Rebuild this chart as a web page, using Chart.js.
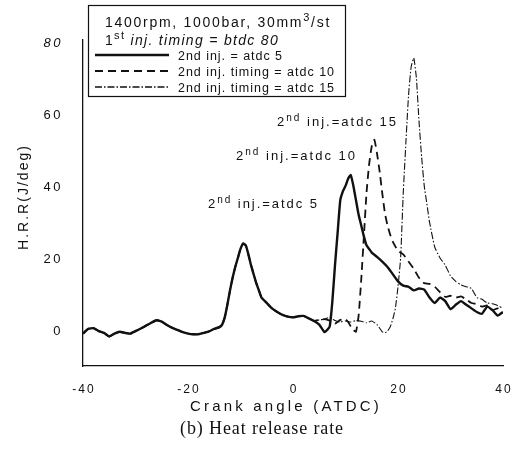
<!DOCTYPE html>
<html>
<head>
<meta charset="utf-8">
<script src="https://cdn.jsdelivr.net/npm/chart.js@4.4.1/dist/chart.umd.min.js"></script>
<style>
  body { margin: 0; background: #fff; }
  canvas { display: block; }
</style>
</head>
<body>
<canvas id="myChart" width="528" height="449"></canvas>
<script>
// partie commune des trois courbes (avant la 2e injection)
const commonAngle = [-40,-39,-38,-37,-36,-35,-34,-33,-32,-31,-30,-29,-28,-27,-26,-25,-24,-23,-22,-21,-20,-19,-18,-17,-16,-15,-14,-13.5,-13,-12.5,-12,-11.5,-11,-10.5,-10,-9.5,-9,-8.5,-8,-7.5,-7,-6.5,-6,-5,-4,-3,-2,-1,0,1,2,3,4]
const commonHrr = [-1,0.3,0.5,-0.3,-0.8,-1.8,-1,-0.5,-0.8,-1,-0.3,0.4,1.2,2,2.7,2.3,1.4,0.6,0,-0.6,-1,-1.2,-1.2,-0.8,-0.4,0.3,0.8,1.5,3.5,7,11,14.5,17.5,20,22.5,24,23.5,21,18,15.5,13,11,9,7.5,6,5,4.2,3.7,3.5,3.8,3.9,3.2,2.5]

// 2nd inj. = atdc 5
const angle5 = [5,6,6.5,7,7.5,8,8.5,9,9.5,10,10.5,11,11.5,12,12.5,13,13.5,14,14.5,15,16,17,18,19,20,21,22,23,24,25,26,27,28,29,30,31,32,33,34,35,36,37,38,39,40]
const hrr5 = [1.5,-0.6,0,1,8,18,27,36,38.5,40,42,43,40,36,32,29,26,23.5,22.5,21.5,20.3,19,17.5,15.5,13.5,12.3,12,11,11.5,11.2,9,7.5,9,8,5.8,7,8,7,6,5,4.5,6.5,5.5,4,5]

// 2nd inj. timing = atdc 10
const angle10 = [5,6,7,8,9,10,10.5,11,11.5,12,12.5,13,13.5,14,14.5,15,15.5,16,16.5,17,17.5,18,18.5,19,20,21,22,23,24,25,26,27,28,29,30,31,32,33,34,35,36,37,38,39,40]
const hrr10 = [2.8,3,2.6,1.8,2.8,3,2.2,1,0,-0.5,4,14,26,38,46,51,52.8,49,44,38,32.5,29,26.5,24.5,22,21,19,17,14.5,13,12.8,12,10.5,9.2,9.5,9,9.3,8.5,7.5,7.2,6.5,6.8,5.5,6,4.7]

// 2nd inj. timing = atdc 15
const angle15 = [5,6,7,8,9,10,11,12,13,14,15,16,17,17.5,18,18.5,19,19.5,20,20.5,21,21.5,22,22.5,23,23.5,24,24.5,25,25.5,26,27,28,29,30,31,32,33,34,35,36,37,38,39,40]
const hrr15 = [2.8,3,3.5,2.6,2.2,2.5,2.2,2.6,2.4,2,2.5,1.5,-0.5,-0.8,-0.3,0.8,3,6,12,20,38,52,65,73,75.5,70,58,48,40,35,30,23,20,18,15,13.5,12.5,12,11.5,9,8.5,7.5,7.3,6.8,6]

const xTicks = [-40,-20,0,20,40]
const yTicks = [0,20,40,60,80]
const seriesLabels = ['2nd inj. = atdc 5', '2nd inj. timing = atdc 10', '2nd inj. timing = atdc 15']

const toPoints = (xs, ys) => xs.map((x, i) => ({x: x, y: ys[i]}))

const FONT = '"Liberation Sans", Arial, sans-serif'
const INK = '#111'

// texte avec espacement pour tenir dans une largeur donnee
const fitText = (ctx, str, x, y, w) => {
  ctx.letterSpacing = '0px'
  const m = ctx.measureText(str).width
  ctx.letterSpacing = ((w - m) / str.length) + 'px'
  ctx.fillText(str, x, y)
  ctx.letterSpacing = '0px'
}

// texte en morceaux (exposants, italique), etire sur la largeur w
const richText = (ctx, parts, x, y, w) => {
  ctx.letterSpacing = '0px'
  let m = 0, n = 0
  parts.forEach(p => { ctx.font = p[1]; m += ctx.measureText(p[0]).width; n += p[0].length })
  ctx.letterSpacing = ((w - m) / n) + 'px'
  let cx = x
  parts.forEach(p => {
    ctx.font = p[1]
    ctx.fillText(p[0], cx, y + (p[2] || 0))
    cx += ctx.measureText(p[0]).width
  })
  ctx.letterSpacing = '0px'
}

const dashes = [[], [8, 5], [7, 2, 1.5, 2]]
const widths = [2.4, 1.8, 1.1]

const decor = {
  id: 'decor',
  afterDraw: (chart) => {
    const ctx = chart.ctx
    const xs = chart.scales.x, ys = chart.scales.y
    ctx.save()
    ctx.fillStyle = INK
    ctx.textBaseline = 'alphabetic'
    ctx.textAlign = 'left'

    // graduations
    xTicks.forEach(v => {
      const s = String(v)
      ctx.font = '12px ' + FONT
      ctx.letterSpacing = '2px'
      const w = ctx.measureText(s).width
      ctx.fillText(s, xs.getPixelForValue(v) - w / 2 + 1, 393)
    })
    yTicks.forEach(v => {
      const s = String(v)
      ctx.font = (v === 80 ? 'italic ' : '') + '13px ' + FONT
      ctx.letterSpacing = '2.5px'
      const w = ctx.measureText(s).width
      ctx.fillText(s, 63 - w, ys.getPixelForValue(v) + 5)
    })
    ctx.letterSpacing = '0px'

    // titres des axes
    ctx.font = '15px ' + FONT
    fitText(ctx, 'Crank angle (ATDC)', 190, 411, 192)
    ctx.save()
    ctx.translate(28, 250)
    ctx.rotate(-Math.PI / 2)
    ctx.font = '14px ' + FONT
    fitText(ctx, 'H.R.R(J/deg)', 0, 0, 106)
    ctx.restore()
    ctx.font = '18px "Liberation Serif", "Times New Roman", serif'
    fitText(ctx, '(b) Heat release rate', 180, 434, 164)

    // annotations
    const sans = '13px ' + FONT, sup = '10px ' + FONT
    richText(ctx, [['2', sans], ['nd', sup, -5], [' inj.=atdc 15', sans]], 277, 126, 121)
    richText(ctx, [['2', sans], ['nd', sup, -5], [' inj.=atdc 10', sans]], 236, 160, 121)
    richText(ctx, [['2', sans], ['nd', sup, -5], [' inj.=atdc 5', sans]], 208, 208, 111)

    // cadre de la legende
    ctx.fillStyle = '#fff'
    ctx.fillRect(88, 5, 257, 91)
    ctx.strokeStyle = INK
    ctx.lineWidth = 1.2
    ctx.strokeRect(88.5, 5.5, 257, 91)
    ctx.fillStyle = INK
    const big = '14px ' + FONT
    richText(ctx, [['1400rpm, 1000bar, 30mm', big], ['3', '11px ' + FONT, -6], ['/st', big]], 105, 27, 226)
    richText(ctx, [['1', big], ['st', '11px ' + FONT, -6], [' inj. timing = btdc 80', 'italic 14px ' + FONT]], 105, 45, 174)
    const rows = [55, 71, 87]
    const labelW = [105, 157, 157]
    seriesLabels.forEach((lab, i) => {
      ctx.beginPath()
      ctx.setLineDash(dashes[i])
      ctx.lineWidth = widths[i] + 0.2
      ctx.moveTo(95, rows[i])
      ctx.lineTo(169, rows[i])
      ctx.stroke()
      ctx.setLineDash([])
      ctx.font = '12.5px ' + FONT
      fitText(ctx, lab, 178, rows[i] + 4.5, labelW[i])
    })
    ctx.restore()
  }
}

const getChart = () => {
  const ctx = document.getElementById('myChart').getContext('2d')
  const series = [
    toPoints(commonAngle.concat(angle5), commonHrr.concat(hrr5)),
    toPoints(commonAngle.concat(angle10), commonHrr.concat(hrr10)),
    toPoints(commonAngle.concat(angle15), commonHrr.concat(hrr15))
  ]
  const config = {
    type: 'line',
    data: {
      datasets: series.map((pts, i) => ({
        label: seriesLabels[i],
        data: pts,
        borderColor: INK,
        backgroundColor: 'transparent',
        borderWidth: widths[i],
        borderDash: dashes[i],
        pointRadius: 0,
        tension: 0.15,
        order: i === 0 ? 0 : 1
      }))
    },
    options: {
      responsive: false,
      animation: false,
      layout: { padding: { left: 83, right: 25, top: 40, bottom: 83 } },
      plugins: { legend: { display: false }, tooltip: { enabled: false } },
      scales: {
        x: {
          type: 'linear', min: -40, max: 40,
          grid: { display: false, drawTicks: false },
          ticks: { display: false },
          border: { color: INK, width: 1.3 }
        },
        y: {
          type: 'linear', min: -10, max: 80.5,
          grid: { display: false, drawTicks: false },
          ticks: { display: false },
          border: { color: INK, width: 1.3 }
        }
      }
    },
    plugins: [decor]
  }
  new Chart(ctx, config)
}

getChart()
</script>
</body>
</html>
